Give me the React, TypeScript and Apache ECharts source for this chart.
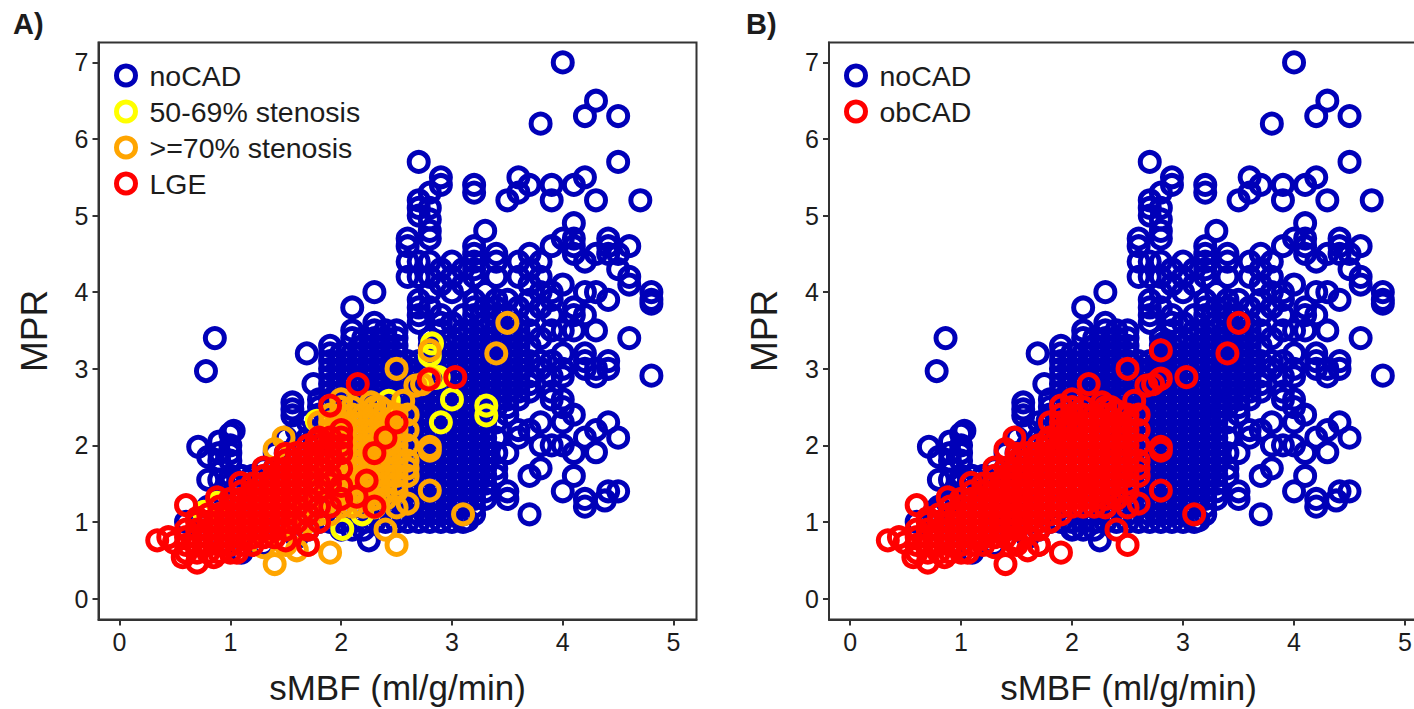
import React, { useEffect, useRef } from "react";
import * as echarts from "echarts";

type Column = [number, number[]];

const xTicks = [0, 1, 2, 3, 4, 5];
const yTicks = [0, 1, 2, 3, 4, 5, 6, 7];

// Blue rings: read column by column (sMBF: MPR readings)
const noCadColumns: Column[] = [
  [0.6, [1.0]],
  [0.71, [1.98, 1.0, 0.9]],
  [0.78, [2.97]],
  [0.8, [1.85, 1.55, 1.2, 1.0, 0.9]],
  [0.86, [3.4]],
  [0.9, [2.05, 1.9, 1.8, 1.55, 1.3, 1.1, 0.9, 0.8]],
  [1.0, [2.15, 2.0, 1.9, 1.8, 1.6, 1.5, 1.2, 1.1, 0.9, 0.7]],
  [1.03, [2.19]],
  [1.1, [1.6, 1.4, 1.2, 1.0, 0.8, 0.6]],
  [1.2, [1.6, 1.4, 1.2, 1.0, 0.8]],
  [1.3, [1.7, 1.5, 1.3, 1.1, 0.9, 0.7]],
  [1.4, [1.9, 1.7, 1.5, 1.3, 1.1, 0.9]],
  [1.5, [2.1, 1.9, 1.7, 1.5, 1.3, 1.1, 0.9]],
  [1.56, [2.56, 2.47, 2.39]],
  [1.6, [2.2, 2.0, 1.8, 1.6, 1.4, 1.2, 1.0, 0.8]],
  [1.69, [3.2]],
  [1.7, [2.3, 2.1, 1.9, 1.7, 1.5, 1.3, 1.1, 0.9]],
  [1.75, [2.8]],
  [1.8, [2.6, 2.5, 2.4, 2.2, 2.0, 1.8, 1.6, 1.4, 1.2, 1.0]],
  [1.9, [3.3, 3.2, 3.1, 3.0, 2.9, 2.8, 2.7, 2.6, 2.5, 2.4, 2.3, 2.2, 2.1, 2.0, 1.8, 1.6, 1.4, 1.2, 1.0]],
  [2.0, [3.2, 3.1, 3.0, 2.9, 2.8, 2.7, 2.6, 2.5, 2.4, 2.3, 2.2, 2.1, 2.0, 1.8, 1.6, 1.4, 1.2, 1.0, 0.9]],
  [2.1, [3.8, 3.5, 3.4, 3.2, 3.1, 3.0, 2.9, 2.8, 2.7, 2.6, 2.5, 2.4, 2.3, 2.2, 2.0, 1.8, 1.6, 1.4, 1.2, 1.0, 0.9]],
  [2.2, [3.4, 3.3, 3.2, 3.1, 3.0, 2.9, 2.8, 2.7, 2.6, 2.5, 2.4, 2.2, 2.0, 1.8, 1.6, 1.4, 1.2, 1.0, 0.9]],
  [2.25, [0.76]],
  [2.3, [4.0, 3.6, 3.5, 3.4, 3.3, 3.2, 3.1, 3.0, 2.9, 2.8, 2.7, 2.6, 2.5, 2.3, 2.1, 1.9, 1.7, 1.5, 1.3, 1.1, 1.0]],
  [2.4, [3.5, 3.4, 3.3, 3.2, 3.1, 3.0, 2.9, 2.8, 2.7, 2.6, 2.4, 2.2, 2.0, 1.8, 1.6, 1.4, 1.2, 1.0]],
  [2.5, [3.5, 3.4, 3.3, 3.2, 3.1, 3.0, 2.9, 2.8, 2.7, 2.6, 2.5, 2.3, 2.1, 1.9, 1.7, 1.5, 1.3, 1.1, 1.0]],
  [2.6, [4.7, 4.6, 4.4, 4.2, 3.1, 3.0, 2.9, 2.8, 2.7, 2.6, 2.5, 2.4, 2.2, 2.0, 1.8, 1.6, 1.4, 1.2, 1.0]],
  [2.7, [5.7, 5.2, 5.1, 5.0, 4.4, 4.2, 3.9, 3.8, 3.7, 3.6, 3.1, 3.0, 2.9, 2.8, 2.7, 2.6, 2.5, 2.4, 2.3, 2.2, 2.1, 2.0, 1.9, 1.8, 1.7, 1.6, 1.5, 1.4, 1.3, 1.2, 1.1, 1.0]],
  [2.8, [5.3, 5.1, 4.95, 4.8, 4.7, 4.4, 4.2, 4.0, 3.8, 3.4, 3.3, 3.2, 3.1, 3.0, 2.9, 2.8, 2.7, 2.6, 2.5, 2.4, 2.3, 2.2, 2.1, 2.0, 1.9, 1.8, 1.7, 1.6, 1.5, 1.4, 1.3, 1.2, 1.1, 1.0]],
  [2.9, [5.5, 5.4, 4.3, 4.1, 3.7, 3.6, 3.5, 3.3, 3.2, 3.1, 3.0, 2.9, 2.8, 2.7, 2.6, 2.5, 2.4, 2.2, 2.1, 2.0, 1.9, 1.8, 1.7, 1.6, 1.5, 1.4, 1.3, 1.2, 1.1, 1.0]],
  [3.0, [4.4, 4.2, 4.0, 3.6, 3.4, 3.3, 3.2, 3.1, 3.0, 2.9, 2.8, 2.7, 2.5, 2.4, 2.3, 2.2, 2.1, 2.0, 1.9, 1.8, 1.7, 1.6, 1.5, 1.4, 1.3, 1.2, 1.1, 1.0]],
  [3.1, [4.3, 4.1, 3.7, 3.5, 3.4, 3.3, 3.2, 3.1, 3.0, 2.9, 2.8, 2.7, 2.6, 2.5, 2.4, 2.3, 2.2, 2.1, 2.0, 1.9, 1.8, 1.7, 1.6, 1.5, 1.4, 1.3, 1.2, 1.1, 1.0]],
  [3.14, [1.02]],
  [3.2, [5.4, 5.3, 4.6, 4.5, 4.4, 4.3, 4.2, 3.9, 3.8, 3.7, 3.5, 3.4, 3.3, 3.2, 3.1, 3.0, 2.9, 2.8, 2.7, 2.6, 2.5, 2.4, 2.3, 2.2, 2.1, 2.0, 1.9, 1.8, 1.7, 1.6, 1.5, 1.4, 1.3, 1.2, 1.1]],
  [3.3, [4.8, 4.0, 3.8, 3.6, 3.5, 3.4, 3.3, 3.2, 3.1, 3.0, 2.9, 2.8, 2.7, 2.6, 2.5, 2.4, 2.3, 2.2, 2.1, 2.0, 1.9, 1.8, 1.7, 1.6, 1.5, 1.4, 1.3]],
  [3.4, [4.5, 4.4, 4.2, 3.9, 3.8, 3.7, 3.6, 3.5, 3.4, 3.3, 3.2, 3.1, 3.0, 2.9, 2.8, 2.7, 2.6, 2.5, 2.3, 2.1, 1.9, 1.7, 1.6]],
  [3.5, [5.2, 3.9, 3.7, 3.6, 3.5, 3.4, 3.3, 3.2, 3.1, 3.0, 2.9, 2.8, 2.7, 2.6, 2.5, 2.4, 1.9, 1.4, 1.3]],
  [3.6, [5.5, 5.3, 4.4, 4.2, 3.8, 3.6, 3.5, 3.4, 3.3, 3.2, 3.1, 3.0, 2.9, 2.8, 2.7, 2.6, 2.2, 2.1]],
  [3.7, [5.4, 4.5, 4.3, 4.1, 3.9, 3.7, 3.5, 3.3, 3.1, 2.9, 2.8, 2.7, 2.2, 1.6, 1.1]],
  [3.8, [6.2, 4.4, 4.2, 4.0, 3.8, 3.4, 3.1, 3.0, 2.3, 2.0, 1.7]],
  [3.9, [5.4, 5.2, 4.6, 4.0, 3.9, 3.7, 3.5, 3.1, 2.9, 2.7, 2.6, 2.0]],
  [4.0, [7.0, 4.7, 4.1, 3.5, 3.2, 3.0, 2.9, 2.6, 2.5, 2.3, 2.0, 1.4]],
  [4.1, [5.4, 4.9, 4.7, 4.6, 4.5, 3.8, 3.7, 3.5, 2.4, 1.9, 1.6]],
  [4.2, [6.3, 5.5, 4.4, 4.0, 3.7, 3.2, 3.1, 3.0, 2.1, 1.3, 1.2]],
  [4.3, [6.5, 5.2, 4.5, 4.0, 3.5, 3.0, 2.9, 2.2, 1.91]],
  [4.38, [1.28]],
  [4.41, [4.7, 4.6, 4.5, 3.9, 3.1, 3.0, 2.3, 1.4]],
  [4.5, [6.3, 5.7, 4.5, 4.3, 2.1, 1.4]],
  [4.6, [4.6, 4.2, 4.1, 3.4]],
  [4.7, [5.2]],
  [4.8, [4.0, 3.9, 3.85, 2.91]],
];

// Yellow rings: 50-69% stenosis
const stenosis50Xs = [0.76, 0.88, 1.78, 2.01, 2.19, 2.43, 2.8, 2.82, 2.85, 2.88, 2.9, 3.0, 3.31, 3.31];
const stenosis50Ys = [1.13, 1.25, 2.32, 0.91, 1.1, 2.58, 3.17, 3.33, 2.88, 2.89, 2.3, 2.6, 2.52, 2.39];

// Orange rings: >=70% stenosis
const stenosis70Columns: Column[] = [
  [0.9, [0.9, 1.1]],
  [1.0, [0.9, 1.2]],
  [1.1, [1.0, 1.3]],
  [1.2, [0.8, 1.0, 1.3]],
  [1.3, [0.67, 1.0, 1.2, 1.4]],
  [1.4, [0.45, 1.95, 1.0, 1.2, 1.4, 1.6]],
  [1.48, [2.1]],
  [1.5, [0.7, 1.0, 1.1, 1.2, 1.4, 1.6]],
  [1.6, [0.63, 0.9, 1.1, 1.2, 1.3, 1.5, 1.7]],
  [1.7, [0.7, 1.0, 1.2, 1.3, 1.4, 1.6, 1.8]],
  [1.8, [1.1, 1.3, 1.5, 1.6, 1.7, 1.8, 1.9, 2.1, 2.3]],
  [1.9, [0.6, 1.1, 1.3, 1.4, 1.5, 1.6, 1.7, 1.9, 2.1, 2.2, 2.3, 2.4]],
  [2.0, [2.6, 2.5, 2.4, 2.3, 2.22, 2.1, 2.0, 1.9, 1.8, 1.7, 1.6, 1.5, 1.4, 1.3, 1.2]],
  [2.1, [2.5, 2.4, 2.3, 2.2, 2.1, 2.0, 1.9, 1.8, 1.7, 1.6, 1.5, 1.4, 1.3, 1.2]],
  [2.2, [2.4, 2.3, 2.2, 2.1, 2.0, 1.9, 1.8, 1.7, 1.6, 1.5, 1.4, 1.3, 1.2]],
  [2.27, [2.56]],
  [2.3, [2.5, 2.4, 2.3, 2.2, 2.1, 2.0, 1.9, 1.8, 1.7, 1.6, 1.5, 1.4, 1.3, 1.19]],
  [2.35, [2.5]],
  [2.4, [2.45, 2.3, 2.2, 2.1, 2.0, 1.9, 1.8, 1.7, 1.6, 1.5, 1.4, 1.3, 0.9]],
  [2.5, [3.0, 2.4, 2.2, 2.1, 2.0, 1.9, 1.8, 1.7, 1.6, 1.5, 1.4, 1.19, 0.7]],
  [2.56, [2.58]],
  [2.6, [2.4, 2.2, 2.0, 1.8, 1.7, 1.6, 1.24]],
  [2.67, [2.78]],
  [2.73, [2.8]],
  [2.8, [3.24, 2.87, 1.98, 1.93, 1.41]],
  [3.1, [1.1]],
  [3.4, [3.2]],
  [3.5, [3.6]],
];

// Red rings: LGE
const lgeColumns: Column[] = [
  [0.34, [0.76]],
  [0.44, [0.8]],
  [0.49, [0.73]],
  [0.57, [0.54]],
  [0.6, [1.22, 0.9, 0.8, 0.7, 0.6]],
  [0.7, [1.05, 1.0, 0.9, 0.8, 0.7, 0.6, 0.47]],
  [0.8, [1.1, 1.0, 0.9, 0.8, 0.7, 0.6]],
  [0.85, [0.54]],
  [0.88, [1.32]],
  [0.9, [1.2, 1.1, 1.0, 0.9, 0.8, 0.7, 0.6]],
  [1.0, [1.3, 1.2, 1.1, 1.0, 0.9, 0.8, 0.7, 0.6]],
  [1.06, [0.6]],
  [1.09, [1.51]],
  [1.1, [1.4, 1.3, 1.2, 1.1, 1.0, 0.9, 0.8, 0.7]],
  [1.2, [1.5, 1.4, 1.3, 1.2, 1.1, 1.0, 0.9, 0.8, 0.7]],
  [1.3, [1.71, 1.6, 1.5, 1.4, 1.3, 1.2, 1.1, 1.0, 0.9, 0.8]],
  [1.4, [1.7, 1.6, 1.5, 1.4, 1.3, 1.2, 1.1, 1.0, 0.9, 0.8]],
  [1.5, [1.89, 1.8, 1.7, 1.6, 1.5, 1.4, 1.3, 1.2, 1.1, 1.0, 0.9, 0.76]],
  [1.6, [1.9, 1.8, 1.7, 1.6, 1.5, 1.4, 1.3, 1.2, 1.0]],
  [1.7, [2.0, 1.9, 1.8, 1.7, 1.6, 1.5, 1.3, 1.1, 0.9, 0.7]],
  [1.78, [2.06]],
  [1.8, [2.1, 2.0, 1.9, 1.8, 1.7, 1.5, 1.4, 1.2, 1.0]],
  [1.9, [2.52, 2.1, 2.0, 1.9, 1.8, 1.6, 1.5, 1.2]],
  [2.0, [2.2, 2.1, 2.0, 1.9, 1.7, 1.47, 1.3]],
  [2.14, [1.33]],
  [2.15, [2.8]],
  [2.23, [1.54]],
  [2.3, [1.9, 1.2]],
  [2.4, [2.1]],
  [2.5, [2.3]],
  [2.79, [2.86]],
  [3.03, [2.89]],
];

const flatten = (cols: Column[]) => cols.flatMap(([x, ys]) => ys.map((y) => [x, y]));
const noCad = flatten(noCadColumns);
const stenosis50 = stenosis50Xs.map((x, i) => [x, stenosis50Ys[i]]);
const stenosis70 = flatten(stenosis70Columns);
const lge = flatten(lgeColumns);

const FONT = "Liberation Sans";
const INK = "#1c1c1c";

function ring(name: string, color: string, data: number[][], idx: number) {
  return {
    name,
    type: "scatter",
    xAxisIndex: idx,
    yAxisIndex: idx,
    data,
    symbol: "circle",
    symbolSize: 19,
    silent: true,
    itemStyle: { color: "rgba(0,0,0,0)", borderColor: color, borderWidth: 5, opacity: 1 },
  };
}

function xAxis(gridIndex: number) {
  return {
    type: "value",
    gridIndex,
    min: -0.19,
    max: 5.207,
    name: "sMBF (ml/g/min)",
    nameLocation: "middle",
    nameGap: 50,
    nameTextStyle: { fontFamily: FONT, fontSize: 35, color: INK },
    splitLine: { show: false },
    axisLine: { show: true, onZero: false, lineStyle: { color: "#333", width: 2 } },
    axisTick: { show: true, customValues: xTicks, length: 6, lineStyle: { color: "#333", width: 2 } },
    axisLabel: { customValues: xTicks, margin: 10, fontFamily: FONT, fontSize: 25, color: INK, hideOverlap: false },
  };
}

function yAxis(gridIndex: number) {
  return {
    type: "value",
    gridIndex,
    min: -0.274,
    max: 7.26,
    name: "MPR",
    nameLocation: "middle",
    nameGap: 46,
    nameTextStyle: { fontFamily: FONT, fontSize: 37, color: INK },
    splitLine: { show: false },
    axisLine: { show: true, onZero: false, lineStyle: { color: "#333", width: 2 } },
    axisTick: { show: true, customValues: yTicks, length: 6, lineStyle: { color: "#333", width: 2 } },
    axisLabel: { customValues: yTicks, margin: 10, fontFamily: FONT, fontSize: 25, color: INK, hideOverlap: false },
  };
}

function legend(left: number, data: string[]) {
  return {
    left,
    top: 61,
    orient: "vertical",
    padding: 0,
    itemWidth: 19,
    itemHeight: 19,
    itemGap: 7,
    selectedMode: false,
    data,
    itemStyle: { borderWidth: 5 },
    textStyle: { fontFamily: FONT, fontSize: 28.5, color: INK, padding: [0, 0, 0, 9] },
  };
}

export default function App() {
  const ref = useRef<HTMLDivElement>(null);
  useEffect(() => {
    const chart = echarts.init(ref.current!, undefined, { renderer: "svg" });
    chart.setOption({
      animation: false,
      backgroundColor: "#ffffff",
      title: [
        { text: "A)", left: 13, top: 9, padding: 0, textStyle: { fontFamily: FONT, fontSize: 29, fontWeight: "bold", color: INK } },
        { text: "B)", left: 746, top: 9, padding: 0, textStyle: { fontFamily: FONT, fontSize: 29, fontWeight: "bold", color: INK } },
      ],
      grid: [
        { left: 98.5, top: 42.5, width: 598, height: 577, outerBoundsMode: "none", show: true, borderColor: "#333", borderWidth: 2, backgroundColor: "transparent" },
        { left: 829, top: 42.5, width: 599, height: 577, outerBoundsMode: "none", show: true, borderColor: "#333", borderWidth: 2, backgroundColor: "transparent" },
      ],
      xAxis: [xAxis(0), xAxis(1)],
      yAxis: [yAxis(0), yAxis(1)],
      legend: [legend(114, ["noCAD", "50-69% stenosis", ">=70% stenosis", "LGE"]), legend(844, ["noCAD", "obCAD"])],
      series: [
        ring("noCAD", "#0000B8", noCad, 0),
        ring("50-69% stenosis", "#FFFF00", stenosis50, 0),
        ring(">=70% stenosis", "#FFA500", stenosis70, 0),
        ring("LGE", "#FF0000", lge, 0),
        ring("noCAD", "#0000B8", [...noCad, ...stenosis50], 1),
        ring("obCAD", "#FF0000", [...stenosis70, ...lge], 1),
      ],
    });
    return () => chart.dispose();
  }, []);
  return <div ref={ref} style={{ position: "fixed", left: 0, top: 0, width: 1414, height: 709 }} />;
}
